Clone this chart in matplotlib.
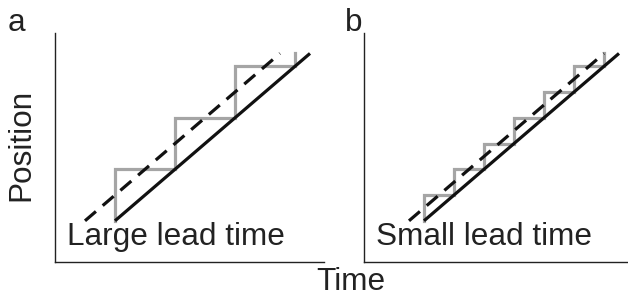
import matplotlib
matplotlib.use("Agg")
import matplotlib.pyplot as plt

# ---- data (arbitrary time / position units) ----
# target trajectory (solid black)
target_t = [1.0, 4.25]
target_y = [0.8, 4.05]

# anticipated trajectory (dashed), shifted by the lead time
lead_t_a = [0.5, 3.75]
lead_t_b = [0.75, 4.0]
lead_y = [0.8, 4.05]

# stepwise movement (gray)
stair_t_a = [1, 1, 2, 2, 3, 3, 4, 4]
stair_y_a = [0.8, 1.8, 1.8, 2.8, 2.8, 3.8, 3.8, 4.05]
stair_t_b = [1, 1, 1.5, 1.5, 2, 2, 2.5, 2.5, 3, 3, 3.5, 3.5, 4, 4]
stair_y_b = [0.8, 1.3, 1.3, 1.8, 1.8, 2.3, 2.3, 2.8, 2.8, 3.3, 3.3, 3.8, 3.8, 4.05]

panels = [("a", 8, "Large lead time", lead_t_a, stair_t_a, stair_y_a),
          ("b", 345, "Small lead time", lead_t_b, stair_t_b, stair_y_b)]

plt.rcParams['font.family'] = ['Liberation Sans', 'DejaVu Sans']
FS = 22.7

fig = plt.figure(figsize=(6.28, 2.99), dpi=100)
W, H = 628, 299
axes_px = [(55, 324), (364, 628)]
top, bottom = 33, 262

for (x0, x1), (tag, tag_x, label, lead_t, st_t, st_y) in zip(axes_px, panels):
    ax = fig.add_axes([x0 / W, 1 - bottom / H, (x1 - x0) / W, (bottom - top) / H])
    ax.plot(st_t, st_y, color='#a5a5a5', lw=2.3, solid_joinstyle='miter')
    ax.plot(target_t, target_y, color='#111111', lw=2.3, solid_capstyle='butt')
    ax.plot(lead_t, lead_y, color='#111111', lw=2.3, dashes=(4.5, 2.8),
            dash_capstyle='butt')
    ax.set_xlim(0, (x1 - x0) / 60)
    ax.set_ylim(0, (bottom - top) / 51.5)
    ax.set_xticks([])
    ax.set_yticks([])
    for s in ['top', 'right']:
        ax.spines[s].set_visible(False)
    for s in ['left', 'bottom']:
        ax.spines[s].set_linewidth(1.0)
        ax.spines[s].set_color('#222222')
    ax.text(0.045, 0.045, label, transform=ax.transAxes, fontsize=FS,
            color='#222222', ha='left', va='bottom')
    fig.text(tag_x / W, 1 - 31 / H, tag, fontsize=FS, color='#222222',
             ha='left', va='baseline')

fig.text(351 / W, 1 - 290 / H, "Time", fontsize=FS, color='#222222',
         ha='center', va='baseline')
fig.text(36 / W, 1 - 145 / H, "Position", fontsize=FS, color='#222222',
         rotation=90, ha='right', va='center')

fig.savefig("out.png", dpi=100)
